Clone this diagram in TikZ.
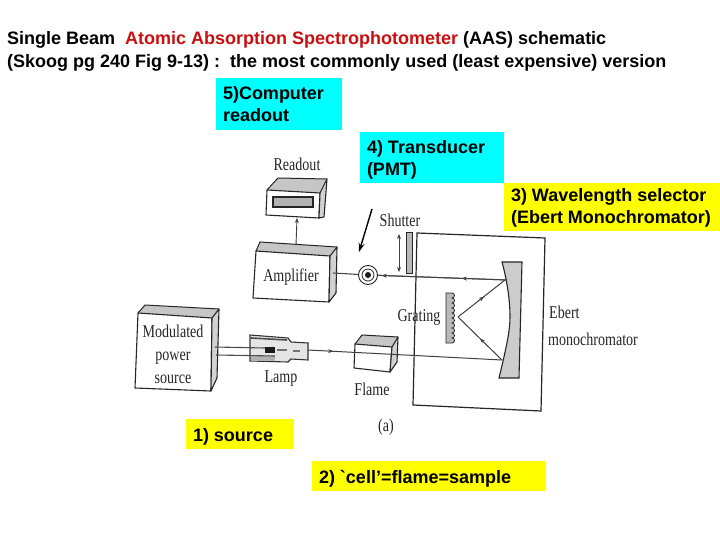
\documentclass[tikz,border=0pt]{standalone}
\usepackage{xcolor}
\usepackage{fontspec}
\setmainfont{Liberation Sans}
\newfontfamily\figfont[FakeStretch=0.78]{Liberation Serif}
\newfontfamily\rawfont{Liberation Sans}
\usetikzlibrary{arrows.meta,positioning,decorations.markings}
\definecolor{tagcyan}{RGB}{0,255,255}
\definecolor{tagyellow}{RGB}{255,255,0}
\definecolor{titlered}{RGB}{200,16,16}
\begin{document}
\begin{tikzpicture}[x=1pt,y=-1pt,
  tag/.style={rectangle, inner sep=0pt, outer sep=0pt, anchor=north west, align=left,
              font=\fontsize{18}{22}\selectfont\bfseries},
  headline/.style={inner sep=0pt, anchor=base west, font=\fontsize{18}{22}\selectfont\bfseries},
  fig/.style={inner sep=0pt, align=center, text=black!85, font=\fontsize{18}{23}\selectfont\figfont},
  unit/.style={draw=black!85, line width=1.1pt, fill=white, line join=round},
  side/.style={draw=black!85, line width=1.1pt, fill=gray!35, line join=round},
  wire/.style={draw=black!70, line width=1.1pt},
  beam/.style={draw=black!75, line width=1pt, postaction={decorate},
    decoration={markings, mark=at position #1 with {\arrow{Stealth[length=5pt,width=4pt]}}}},
  arr/.style={-{Stealth[length=5pt,width=4pt]}, draw=black!75, line width=0.9pt}
]
\useasboundingbox (0,0) rectangle (720,540);
\fill[white] (0,0) rectangle (720,540);

% title
\node[headline] (title1) at (7,45) {Single Beam\ \ \textcolor{titlered}{Atomic Absorption Spectrophotometer} (AAS) schematic};
\node[headline] (title2) at (7,68) {(Skoog pg 240 Fig 9-13) :\ \ the most commonly used (least expensive) version};

% readout
\fill[gray!45] (267,190) -- (278,178) -- (327,179) -- (320,193) -- cycle;
\draw[unit] (267,190) -- (320,193) -- (319,218) -- (266,215) -- cycle;
\draw[side] (320,193) -- (327,179) -- (324,217) -- (319,218) -- cycle;
\draw[draw=black!85, line width=1pt] (267,190) -- (278,178) -- (327,179);
\draw[draw=black!85, fill=gray!60, line width=1.2pt] (273,197) rectangle (313,207);
\coordinate (readoutin) at (297,218);
\node[fig] (readout) at (297,164) {Readout};

% amplifier
\fill[gray!45] (256,251) -- (260,242) -- (337,247) -- (330,256) -- cycle;
\draw[unit] (256,251) -- (330,256) -- (329,302) -- (253,298) -- cycle;
\draw[side] (330,256) -- (337,247) -- (336,293) -- (329,302) -- cycle;
\draw[draw=black!85, line width=1pt] (256,251) -- (260,242) -- (337,247);
\coordinate (ampin) at (333,273);
\coordinate (ampout) at (296,245);
\node[fig] (amp) at (291,277) {Amplifier};

% detector
\node[circle, draw=black!85, line width=0.9pt, fill=white, minimum size=19pt, inner sep=0pt] (det) at (368,275) {};
\node[circle, draw=black!85, line width=0.8pt, fill=white, minimum size=12pt, inner sep=0pt] (detmid) at (368,275) {};
\node[circle, fill=black!90, minimum size=6pt, inner sep=0pt] (detcore) at (368,275) {};

% shutter
\draw[draw=black!85, fill=gray!55, line width=0.9pt] (406,232) rectangle (412,273);
\coordinate (shuttop) at (399,234);
\coordinate (shutbot) at (399,272);
\node[fig] (shutter) at (400,220) {Shutter};

% power source
\fill[gray!45] (138,313) -- (145,305) -- (219,309) -- (212,318) -- cycle;
\draw[unit] (138,313) -- (212,318) -- (211,391) -- (135,388) -- cycle;
\draw[side] (212,318) -- (219,309) -- (217,378) -- (211,391) -- cycle;
\draw[draw=black!85, line width=1pt] (138,313) -- (145,305) -- (219,309);
\node[fig] (source) at (173,354) {Modulated\\power\\source};
\coordinate (srcup) at (215,347);
\coordinate (srclow) at (216,355);

% lamp
\draw[draw=black!80, fill=gray!20, line width=1.1pt] (250,335) -- (288,338) -- (291,342) -- (308,343)
  -- (308,360) -- (291,359) -- (288,362) -- (250,361) -- cycle;
\fill[gray!60] (251,356) rectangle (275,361);
\draw[draw=black!70, line width=1.6pt] (251,338) -- (287,340);
\fill[black!90] (265,347) rectangle (275,353);
\draw[draw=black!55, line width=2pt] (277,350) -- (287,350);
\draw[draw=black!55, line width=1.5pt] (293,351) -- (300,351);
\coordinate (fil1) at (265,348);
\coordinate (fil2) at (275,356);
\coordinate (lampout) at (308,350);
\node[fig] (lamp) at (281,379) {Lamp};
\draw[wire] (srcup) -- (fil1);
\draw[wire] (srclow) -- (fil2);

% flame
\fill[gray!45] (355,344) -- (362,335) -- (398,337) -- (392,347) -- cycle;
\draw[unit] (355,344) -- (392,347) -- (390,372) -- (354,368) -- cycle;
\draw[side] (392,347) -- (398,337) -- (397,362) -- (390,372) -- cycle;
\draw[draw=black!85, line width=1pt] (355,344) -- (362,335) -- (398,337);
\node[fig] (flame) at (372,389) {Flame};

% monochromator
\draw[draw=black!85, line width=1.2pt] (417,233) -- (545,238) -- (541,411) -- (413,405) -- cycle;
\draw[draw=black!85, fill=gray!40, line width=1.1pt] (502,262) -- (522,262) -- (519,378) -- (499,378)
  .. controls (507,345) and (510,330) .. (510,317)
  .. controls (510,300) and (507,280) .. (502,262) -- cycle;
\draw[draw=black!85, fill=gray!55, line width=0.8pt] (446,293) -- (452,293)
  arc[start angle=90,end angle=-90,radius=2.5pt] arc[start angle=90,end angle=-90,radius=2.5pt]
  arc[start angle=90,end angle=-90,radius=2.5pt] arc[start angle=90,end angle=-90,radius=2.5pt]
  arc[start angle=90,end angle=-90,radius=2.5pt] arc[start angle=90,end angle=-90,radius=2.5pt]
  arc[start angle=90,end angle=-90,radius=2.5pt] arc[start angle=90,end angle=-90,radius=2.5pt]
  arc[start angle=90,end angle=-90,radius=2.5pt] arc[start angle=90,end angle=-90,radius=2.5pt]
  -- (446,343) -- cycle;
\coordinate (gratpt) at (458,317);
\coordinate (mirlow) at (502,360);
\coordinate (mirup) at (505,280);
\coordinate (mirtop) at (507,280);
\node[fig] (grating) at (419,317) {Grating};
\node[fig, anchor=west] (ebert1) at (549,312) {Ebert};
\node[fig, anchor=west] (ebert2) at (548,339) {monochromator};
\node[fig] (panel) at (386,427) {(a)};

% beam path
\draw[beam=0.13] (lampout) -- (mirlow);
\draw[beam=0.5] (mirlow) -- (gratpt);
\draw[beam=0.55] (gratpt) -- (mirup);
\draw[beam=0.97] (mirtop) -- (det);
\draw[beam=0.35] (mirtop) -- (det);
\draw[wire] (ampin) -- (det);
\draw[arr] (ampout) -- (readoutin);
\draw[{Stealth[length=5pt,width=4pt]}-{Stealth[length=5pt,width=4pt]}, draw=black!75, line width=0.9pt] (shuttop) -- (shutbot);

% pointer to detector
\coordinate (ptrtail) at (372,209);
\coordinate (ptrhead) at (359,252);
\draw[-{Stealth[length=9pt,width=6pt]}, line width=1.4pt] (ptrtail) -- (ptrhead);

% tags
\fill[tagcyan] (216,78) rectangle (342,130);
\node[tag] (tagfive) at (223,86) {5)Computer\\readout};
\fill[tagcyan] (360,132) rectangle (504,183);
\node[tag] (tagfour) at (367,140) {4) Transducer\\(PMT)};
\fill[tagyellow] (504,183) rectangle (720,231);
\node[tag] (tagthree) at (511,188) {3) Wavelength selector\\(Ebert Monochromator)};
\fill[tagyellow] (186,419) rectangle (294,449);
\node[tag] (tagone) at (193,428) {1) source};
\fill[tagyellow] (312,461) rectangle (546,491);
\node[tag] (tagtwo) at (319,470) {2) {\rawfont `}cell’=flame=sample};
\end{tikzpicture}
\end{document}
